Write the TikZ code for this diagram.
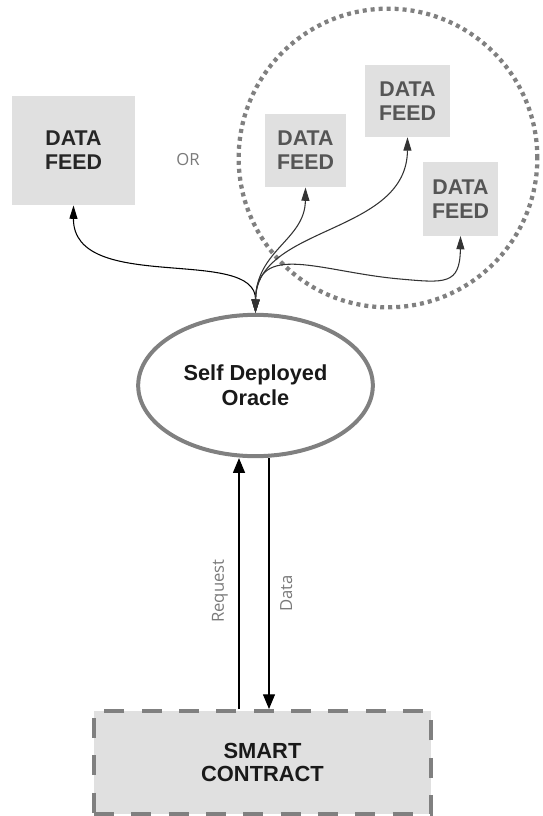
\documentclass[tikz,border=0pt]{standalone}
\usepackage{fontspec}
\setmainfont{Liberation Sans}
\newfontfamily\thinfont{Open Sans}
\usetikzlibrary{arrows.meta,shapes.geometric}
\definecolor{feedfill}{HTML}{E0E0E0}
\definecolor{linegray}{HTML}{808080}
\definecolor{textgray}{HTML}{555555}
\definecolor{labelgray}{HTML}{7A7A7A}

\begin{document}
\begin{tikzpicture}[x=0.75pt,y=-0.75pt,
        feed/.style={fill=feedfill,inner sep=0pt,align=center,
            font=\bfseries\fontsize{16}{18}\selectfont},
        link/.style={{Triangle[length=10pt,width=6pt]}-{Triangle[length=10pt,width=6pt]},
            line width=0.8pt},
        bigarrow/.style={-{Triangle[length=11pt,width=9pt]},line width=0.8pt},
        tag/.style={font=\thinfont\fontsize{12.5}{14}\selectfont,text=labelgray}]
\useasboundingbox (0,0) rectangle (542,816);

% sources
\node[feed,text=black!85,minimum width=92pt,minimum height=82pt] (feedA) at (73.5,150.5) {DATA\\FEED};
\node[tag] (or) at (188,160) {OR};
\draw[linegray,line width=3.2pt,dash pattern=on 3pt off 3pt] (388,158) circle[radius=112pt];
\node[feed,text=textgray,minimum width=61pt,minimum height=55pt] (feedB) at (305.5,150.5) {DATA\\FEED};
\node[feed,text=textgray,minimum width=64pt,minimum height=54pt] (feedC) at (407.5,101) {DATA\\FEED};
\node[feed,text=textgray,minimum width=56pt,minimum height=55pt] (feedD) at (460.5,199) {DATA\\FEED};

% oracle and contract
\node[ellipse,draw=linegray,line width=3pt,inner sep=0pt,minimum width=176pt,minimum height=106pt,
    align=center,font=\bfseries\fontsize{16.3}{18.75}\selectfont,text=black!90] (oracle) at (255.5,385.5) {Self Deployed\\Oracle};
\node[fill=feedfill,draw=linegray,line width=3pt,dash pattern=on 15pt off 13pt,inner sep=0pt,
    minimum width=252.75pt,minimum height=77.25pt,align=center,
    font=\bfseries\fontsize{16.4}{17.5}\selectfont,text=black!90] (smart) at (262.5,762.5) {SMART\\CONTRACT};

% links to the feeds
\draw[link] (feedA.south) .. controls (73,295) and (256,245) .. (oracle.north);
\draw[link,black!80] (feedB.south) .. controls (305,240) and (256,250) .. (oracle.north);
\draw[link,black!80] (feedC.south) .. controls (407,235) and (256,225) .. (oracle.north);
\draw[link,black!80] (feedD.south) .. controls (460,285) and (445,283) .. (400,279)
    .. controls (320,272) and (256,240) .. (oracle.north);

% request / data
\coordinate (reqx) at (239,0);
\coordinate (datx) at (269,0);
\draw[bigarrow] (smart.north -| reqx) -- (oracle.south -| reqx)
    node[tag,pos=0.47,rotate=90,anchor=south,inner sep=8pt] {Request};
\draw[bigarrow] (oracle.south -| datx) -- (smart.north -| datx)
    node[tag,pos=0.54,rotate=90,anchor=north,inner sep=8pt] {Data};
\end{tikzpicture}
\end{document}
